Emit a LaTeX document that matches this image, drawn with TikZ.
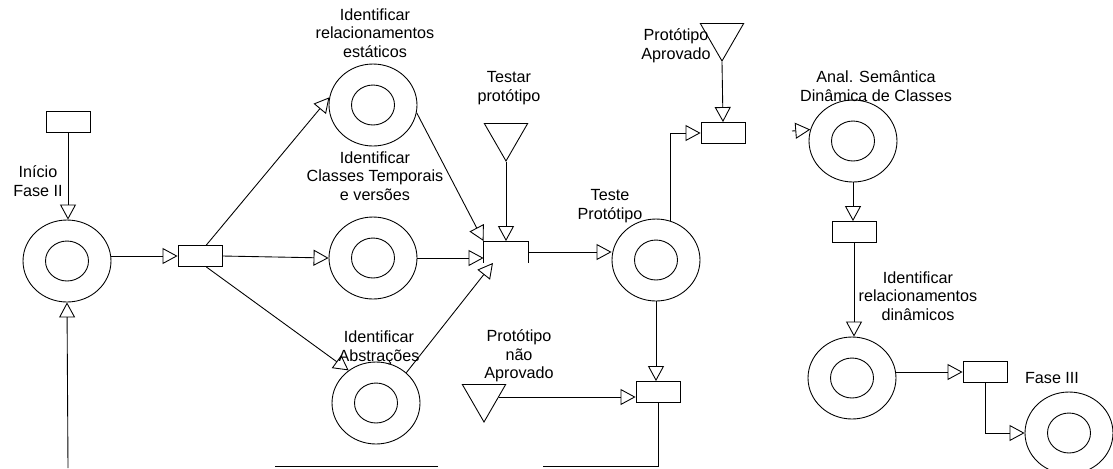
\documentclass[tikz,border=0pt]{standalone}
\usepackage{fontspec}
\setmainfont{Liberation Sans}
\usetikzlibrary{arrows.meta,shapes.geometric}

\begin{document}
\begin{tikzpicture}[x=0.02cm,y=-0.02cm,line width=0.5pt,
  >={Triangle[open,length=0.3cm,width=0.32cm]},
  place/.style={draw,ellipse,minimum width=1.76cm,minimum height=1.64cm,inner sep=0pt,
    path picture={\draw (path picture bounding box.center) ellipse (0.43cm and 0.40cm);}},
  trans/.style={draw,rectangle,minimum width=0.88cm,minimum height=0.42cm,inner sep=0pt},
  token/.style={draw,regular polygon,regular polygon sides=3,shape border rotate=180,
    minimum size=1cm,inner sep=0pt},
  lbl/.style={align=center,font=\fontsize{9.2}{10.6}\selectfont,inner sep=0pt}]
\useasboundingbox (0,0) rectangle (1113,468);

% places and transitions
\node[place] (p0) at (67,261) {};
\node[trans] (t0) at (68,122) {};
\node[trans] (t1) at (200,256) {};
\node[place] (p1) at (373,105) {};
\node[place] (p2) at (373,258) {};
\node[place] (p3) at (376,403) {};
\node[trans,draw=none] (t2) at (506,252) {};
\draw (t2.south west) -- (t2.north west) -- (t2.north east) -- (t2.south east);
\node[token] (testar) at (506,136) {};
\node[place] (p4) at (656,260) {};
\node[trans] (t3) at (723,133) {};
\node[token] (aprov) at (722,36) {};
\node[token] (nao) at (484,397) {};
\node[trans] (t4) at (658,392) {};
\node[place] (p5) at (853,141) {};
\node[trans] (t5) at (854,232) {};
\node[place] (p6) at (852,378) {};
\node[trans] (t6) at (985,372) {};
\node[place] (p7) at (1069,433) {};

% loose ends
\coordinate (fbl) at (68,468);
\coordinate (fbr) at (543,466);
\coordinate (fbm) at (438,466);
\coordinate (fbm2) at (275,466);
\coordinate (anin) at (792,131);

% labels
\node[lbl] (l0) at (38,181) {Início\\Fase II};
\node[lbl] (l1) at (375,33) {Identificar\\relacionamentos\\estáticos};
\node[lbl] (l2) at (375,176) {Identificar\\Classes Temporais\\e versões};
\node[lbl] (l3) at (379,348) {Identificar\\Abstrações};
\node[lbl] (l4) at (509,88) {Testar\\protótipo};
\node[lbl] (l5) at (519,356) {Protótipo\\não\\Aprovado};
\node[lbl] (l6) at (676,46) {Protótipo\\Aprovado};
\node[lbl] (l7) at (610,206) {Teste\\Protótipo};
\node[lbl] (l8) at (876,86) {Anal. Semântica\\Dinâmica de Classes};
\node[lbl] (l9) at (918,296) {Identificar\\relacionamentos\\dinâmicos};
\node[lbl] (l10) at (1052,378) {Fase III};

% arcs
\draw[->] (t0.south) -- (t0.south |- p0.north);
\draw[->] (p0.east |- t1) -- (t1.west);
\draw[->] (t1.60) -- (p1.170);
\draw[->] (t1.east) -- (p2.west);
\draw[->] (t1.-60) -- (p3.130);
\draw[->] (p1.-10) -- (t2.north west);
\draw[->] (p2.east) -- (p2.east -| t2.west);
\draw[->] (p3.45) -- (t2.-140);
\draw[->] (testar.south) -- (t2.north);
\draw[->] (t2.east) -- (t2.east -| p4.west);
\draw[->] (p4.70) |- (t3.west);
\draw[->] (aprov.south) -- (t3.north);
\draw[->] (p4.south) -- (p4.south |- t4.north);
\draw[->] (nao.east) -- (nao.east -| t4.west);
\draw (t4.south) |- (fbr);
\draw (fbm) -- (fbm2);
\draw[->] (fbl) -- (p0.south);
\draw[->] (anin) -- (p5.165);
\draw[->] (p5.south) -- (p5.south |- t5.north);
\draw[->] (t5.south) -- (t5.south |- p6.north);
\draw[->] (p6.east |- t6) -- (t6.west);
\draw[->] (t6.south) |- (p7.west);
\end{tikzpicture}
\end{document}
